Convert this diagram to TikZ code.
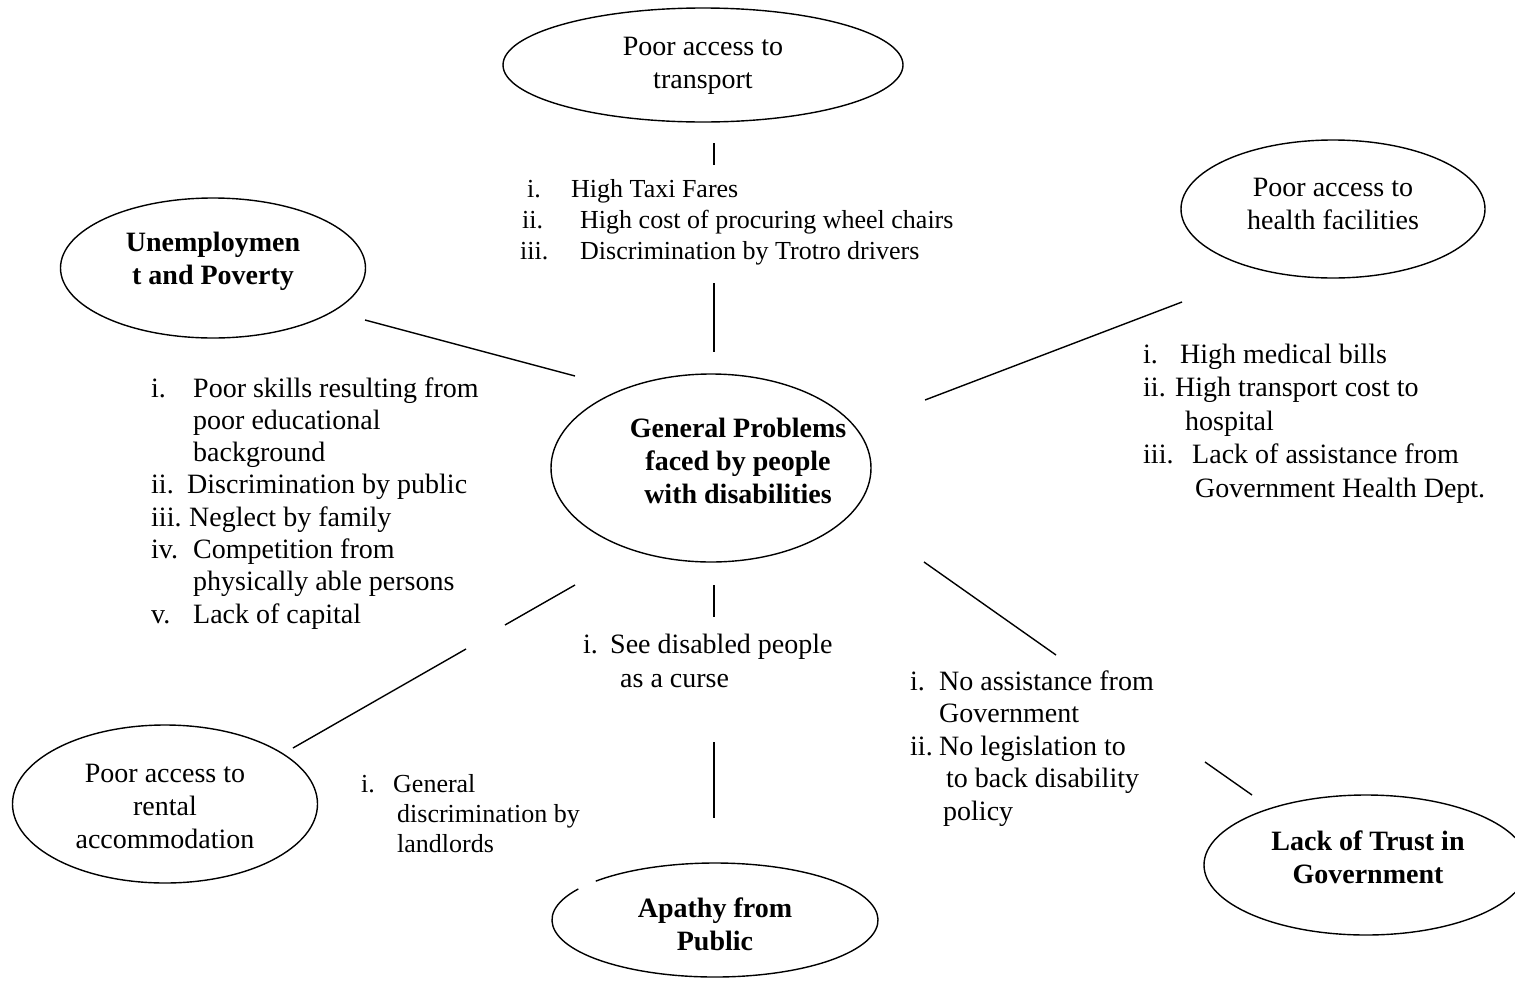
\documentclass[tikz,border=0pt]{standalone}
\usepackage{fontspec}
\setmainfont{Liberation Serif}
\usetikzlibrary{shapes.geometric}

% marker box for numbered list entries
\newcommand{\mk}[2]{\makebox[#1pt][l]{#2}}
\newcommand{\ind}[1]{\hspace*{#1pt}}

\tikzset{
  bubble/.style={ellipse, draw, line width=1.4pt, inner sep=0pt},
  bubtext/.style={align=center, inner sep=0pt, font=\fontsize{28}{33}\selectfont},
  boldtext/.style={bubtext, font=\fontsize{28}{33}\selectfont\bfseries},
  link/.style={line width=1.4pt},
  itemlist/.style={anchor=base west, inner sep=0pt},
}

\begin{document}
\begin{tikzpicture}[x=1pt, y=1pt]
\useasboundingbox (0,0) rectangle (1515,-980);

% ---- bubbles ----
\node[bubble, minimum width=400, minimum height=114] (transport) at (703,-65) {};
\node[bubtext] (transport text) at (703,-66) {Poor access to\\transport};

\node[bubble, minimum width=304, minimum height=138] (health) at (1333,-209) {};
\node[bubtext] (health text) at (1333,-204) {Poor access to\\health facilities};

\node[bubble, minimum width=305, minimum height=140] (unemp) at (213,-268) {};
\node[boldtext] (unemp text) at (213,-261) {Unemploymen\\t and Poverty};

\node[bubble, minimum width=320, minimum height=188] (general) at (711,-468) {};
\node[boldtext] (general text) at (738,-461) {General Problems\\faced by people\\with disabilities};

\node[bubble, minimum width=305, minimum height=158] (rental) at (165,-804) {};
\node[bubtext] (rental text) at (165,-806) {Poor access to\\rental\\accommodation};

% the outline of this bubble is left open at its upper left
\node[ellipse, inner sep=0pt, minimum width=326, minimum height=114] (apathy) at (715,-920) {};
\draw[line width=1.4pt] ([shift={(147:163 and 57)}]apathy.center)
  arc[start angle=147, end angle=497, x radius=163, y radius=57];
\node[boldtext] (apathy text) at (715,-924) {Apathy from\\Public};

\node[bubble, minimum width=324, minimum height=140] (trust) at (1366,-865) {};
\node[boldtext] (trust text) at (1368,-857) {Lack of Trust in\\Government};

% ---- connector ends ----
\coordinate (t1) at (714,-143);  \coordinate (t2) at (714,-165);
\coordinate (t3) at (714,-283);  \coordinate (t4) at (714,-352);
\coordinate (u1) at (365,-320);  \coordinate (u2) at (575,-376);
\coordinate (h1) at (925,-400);  \coordinate (h2) at (1182,-302);
\coordinate (r1) at (575,-585);  \coordinate (r2) at (505,-625);
\coordinate (r3) at (466,-649);  \coordinate (r4) at (293,-748);
\coordinate (a1) at (714,-585);  \coordinate (a2) at (714,-617);
\coordinate (a3) at (714,-742);  \coordinate (a4) at (714,-818);
\coordinate (g1) at (924,-562);  \coordinate (g2) at (1056,-655);
\coordinate (g3) at (1205,-762); \coordinate (g4) at (1252,-795);

\draw[link] (t1) -- (t2);
\draw[link] (t3) -- (t4);
\draw[link] (u1) -- (u2);
\draw[link] (h1) -- (h2);
\draw[link] (r1) -- (r2);
\draw[link] (r3) -- (r4);
\draw[link] (a1) -- (a2);
\draw[link] (a3) -- (a4);
\draw[link] (g1) -- (g2);
\draw[link] (g3) -- (g4);

% ---- lists of problems ----
\node[itemlist] (transport list) at (527,-197) {\fontsize{26}{31}\selectfont
  \begin{tabular}[t]{@{}l@{}}
  \mk{44}{i.}High Taxi Fares\\
  \ind{-5}\mk{58}{ii.}High cost of procuring wheel chairs\\
  \ind{-7}\mk{60}{iii.}Discrimination by Trotro drivers
  \end{tabular}};

\node[itemlist] (unemp list) at (151,-397) {\fontsize{28}{32.3}\selectfont
  \begin{tabular}[t]{@{}l@{}}
  \mk{42}{i.}Poor skills resulting from\\
  \ind{42}poor educational\\
  \ind{42}background\\
  \mk{36}{ii.}Discrimination by public\\
  \mk{38}{iii.}Neglect by family\\
  \mk{42}{iv.}Competition from\\
  \ind{42}physically able persons\\
  \mk{42}{v.}Lack of capital
  \end{tabular}};

\node[itemlist] (health list) at (1143,-363) {\fontsize{28}{33.5}\selectfont
  \begin{tabular}[t]{@{}l@{}}
  \mk{37}{i.}High medical bills\\
  \mk{32}{ii.}High transport cost to\\
  \ind{42}hospital\\
  \mk{49}{iii.}Lack of assistance from\\
  \ind{52}Government Health Dept.
  \end{tabular}};

\node[itemlist] (apathy list) at (583,-653) {\fontsize{28}{34}\selectfont
  \begin{tabular}[t]{@{}l@{}}
  \mk{27}{i.}See disabled people\\
  \ind{37}as a curse
  \end{tabular}};

\node[itemlist] (rental list) at (361,-792) {\fontsize{26}{30}\selectfont
  \begin{tabular}[t]{@{}l@{}}
  \mk{32}{i.}General\\
  \ind{36}discrimination by\\
  \ind{36}landlords
  \end{tabular}};

\node[itemlist] (trust list) at (910,-690) {\fontsize{28}{32.5}\selectfont
  \begin{tabular}[t]{@{}l@{}}
  \mk{29}{i.}No assistance from\\
  \ind{29}Government\\
  \mk{29}{ii.}No legislation to\\
  \ind{36}to back disability\\
  \ind{33}policy
  \end{tabular}};
\end{tikzpicture}
\end{document}
